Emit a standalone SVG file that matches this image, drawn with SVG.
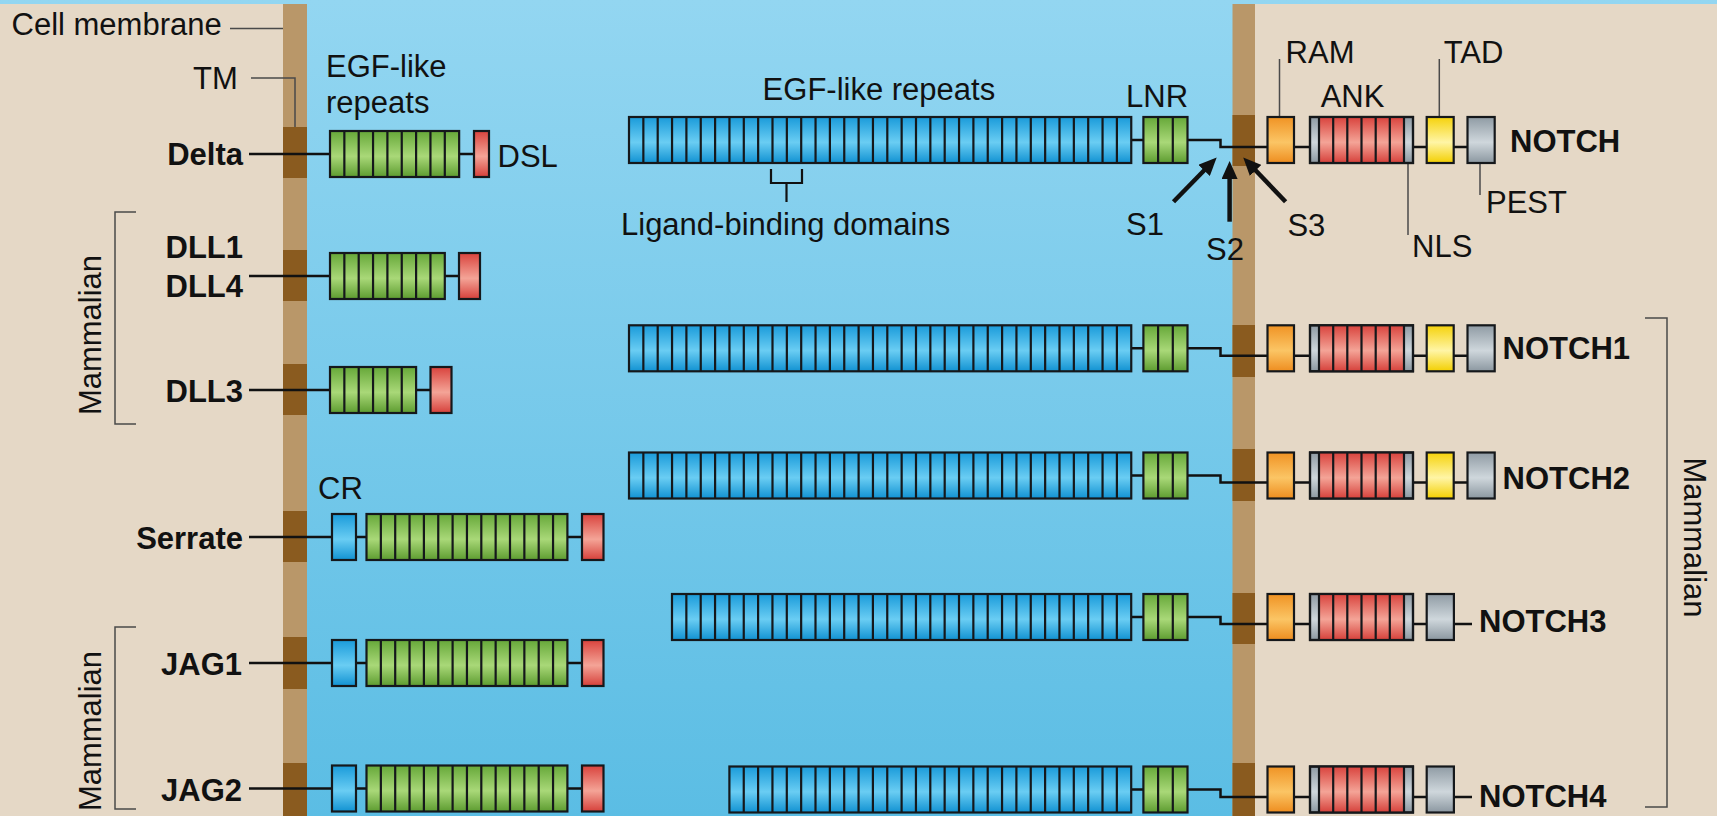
<svg xmlns="http://www.w3.org/2000/svg" xmlns:xlink="http://www.w3.org/1999/xlink" width="1717" height="816" viewBox="0 0 1717 816">
<style>
text{font-family:"Liberation Sans",Arial,sans-serif;font-size:31px;fill:#111}
.b{font-weight:bold}
.box{stroke:#15181b;stroke-width:2.2}
.div{stroke:#15181b;stroke-width:2.2;fill:none}
.con{stroke:#111;stroke-width:2.5;fill:none}
.lead{stroke:#4a4a4a;stroke-width:1.5;fill:none}
.brk{stroke:#111;stroke-width:2.2;fill:none}
.arr{stroke:#111;stroke-width:4.5;fill:none;marker-end:url(#ah)}
.tm{fill:#8a5b1f}
</style>
<defs>
<linearGradient id="bg" x1="0" y1="0" x2="0" y2="816" gradientUnits="userSpaceOnUse"><stop offset="0" stop-color="#93d6f1"/><stop offset="1" stop-color="#5bbde4"/></linearGradient>
<linearGradient id="gB" x1="0" y1="0" x2="0" y2="1"><stop offset="0" stop-color="#1a9bda"/><stop offset=".55" stop-color="#6acdf3"/><stop offset="1" stop-color="#1192d2"/></linearGradient>
<linearGradient id="gG" x1="0" y1="0" x2="0" y2="1"><stop offset="0" stop-color="#66a839"/><stop offset=".55" stop-color="#a9d878"/><stop offset="1" stop-color="#5d9c30"/></linearGradient>
<linearGradient id="gR" x1="0" y1="0" x2="0" y2="1"><stop offset="0" stop-color="#d9433d"/><stop offset=".55" stop-color="#f4a497"/><stop offset="1" stop-color="#d6403a"/></linearGradient>
<linearGradient id="gO" x1="0" y1="0" x2="0" y2="1"><stop offset="0" stop-color="#f09324"/><stop offset=".55" stop-color="#fbc565"/><stop offset="1" stop-color="#ee8d1f"/></linearGradient>
<linearGradient id="gY" x1="0" y1="0" x2="0" y2="1"><stop offset="0" stop-color="#f5d20a"/><stop offset=".55" stop-color="#fff5a6"/><stop offset="1" stop-color="#f3cf00"/></linearGradient>
<linearGradient id="gS" x1="0" y1="0" x2="0" y2="1"><stop offset="0" stop-color="#8f9ba4"/><stop offset=".55" stop-color="#cfd7dc"/><stop offset="1" stop-color="#8b97a0"/></linearGradient>
<marker id="ah" markerUnits="userSpaceOnUse" markerWidth="18" markerHeight="16" refX="2" refY="8" orient="auto"><path d="M0,0 L18,8 L0,16 z" fill="#111"/></marker>
<path id="d35" class="div" d="M14.35 0v46m14.35-46v46m14.35-46v46m14.35-46v46m14.35-46v46m14.35-46v46m14.35-46v46m14.35-46v46m14.35-46v46m14.35-46v46m14.35-46v46m14.35-46v46m14.35-46v46m14.35-46v46m14.35-46v46m14.35-46v46m14.35-46v46m14.35-46v46m14.35-46v46m14.35-46v46m14.35-46v46m14.35-46v46m14.35-46v46m14.35-46v46m14.35-46v46m14.35-46v46m14.35-46v46m14.35-46v46m14.35-46v46m14.35-46v46m14.35-46v46m14.35-46v46m14.35-46v46m14.35-46v46"/>
<path id="d32" class="div" d="M14.35 0v46m14.35-46v46m14.35-46v46m14.35-46v46m14.35-46v46m14.35-46v46m14.35-46v46m14.35-46v46m14.35-46v46m14.35-46v46m14.35-46v46m14.35-46v46m14.35-46v46m14.35-46v46m14.35-46v46m14.35-46v46m14.35-46v46m14.35-46v46m14.35-46v46m14.35-46v46m14.35-46v46m14.35-46v46m14.35-46v46m14.35-46v46m14.35-46v46m14.35-46v46m14.35-46v46m14.35-46v46m14.35-46v46m14.35-46v46m14.35-46v46"/>
<path id="d28" class="div" d="M14.35 0v46m14.35-46v46m14.35-46v46m14.35-46v46m14.35-46v46m14.35-46v46m14.35-46v46m14.35-46v46m14.35-46v46m14.35-46v46m14.35-46v46m14.35-46v46m14.35-46v46m14.35-46v46m14.35-46v46m14.35-46v46m14.35-46v46m14.35-46v46m14.35-46v46m14.35-46v46m14.35-46v46m14.35-46v46m14.35-46v46m14.35-46v46m14.35-46v46m14.35-46v46m14.35-46v46"/>
<path id="d14" class="div" d="M14.35 0v46m14.35-46v46m14.35-46v46m14.35-46v46m14.35-46v46m14.35-46v46m14.35-46v46m14.35-46v46m14.35-46v46m14.35-46v46m14.35-46v46m14.35-46v46m14.35-46v46"/>
<path id="d9" class="div" d="M14.35 0v46m14.35-46v46m14.35-46v46m14.35-46v46m14.35-46v46m14.35-46v46m14.35-46v46m14.35-46v46"/>
<path id="d8" class="div" d="M14.35 0v46m14.35-46v46m14.35-46v46m14.35-46v46m14.35-46v46m14.35-46v46m14.35-46v46"/>
<path id="d6" class="div" d="M14.35 0v46m14.35-46v46m14.35-46v46m14.35-46v46m14.35-46v46"/>
<g id="egf35"><rect class="box" width="502.25" height="46" fill="url(#gB)"/><use href="#d35"/></g>
<g id="lnr"><rect class="box" width="44.1" height="46" fill="url(#gG)"/><path class="div" d="M14.7 0v46M29.4 0v46"/></g>
<g id="ank"><rect class="box" width="103" height="46" fill="url(#gS)"/><rect x="9" width="85" height="46" fill="url(#gR)"/><path class="div" d="M9 0v46M23.2 0v46M37.3 0v46M51.5 0v46M65.7 0v46M79.8 0v46M94 0v46"/><rect class="box" width="103" height="46" fill="none"/></g>
<g id="ram"><rect class="box" width="26.5" height="46" fill="url(#gO)"/></g>
<g id="tad"><rect class="box" width="27" height="46" fill="url(#gY)"/></g>
<g id="pest"><rect class="box" width="27.2" height="46" fill="url(#gS)"/></g>
<g id="cr"><rect class="box" width="24" height="46" fill="url(#gB)"/></g>
<g id="jagg"><rect class="box" width="200.9" height="46" fill="url(#gG)"/><use href="#d14"/></g>
<g id="jagr"><rect class="box" width="21.5" height="46" fill="url(#gR)"/></g>
</defs>

<g id="background">
<rect width="1717" height="816" fill="url(#bg)"/>
<rect x="0" y="4" width="283" height="812" fill="#e5d8c6"/>
<rect x="1255" y="4" width="462" height="812" fill="#e5d8c6"/>
<rect x="283" y="4" width="24" height="812" fill="#b99769"/>
<rect x="1232.5" y="4" width="22.5" height="812" fill="#b99769"/>
<rect class="tm" x="283" y="127" width="24" height="51"/>
<rect class="tm" x="283" y="250" width="24" height="51"/>
<rect class="tm" x="283" y="364" width="24" height="51"/>
<rect class="tm" x="283" y="511" width="24" height="51"/>
<rect class="tm" x="283" y="637" width="24" height="52"/>
<rect class="tm" x="283" y="763" width="24" height="53"/>
<rect class="tm" x="1232.5" y="115" width="22.5" height="51"/>
<rect class="tm" x="1232.5" y="325" width="22.5" height="52"/>
<rect class="tm" x="1232.5" y="449" width="22.5" height="52"/>
<rect class="tm" x="1232.5" y="593" width="22.5" height="51"/>
<rect class="tm" x="1232.5" y="763" width="22.5" height="53"/>
</g>

<g id="connectors">
<path class="con" d="M249 154H489"/>
<path class="con" d="M249 276H470"/>
<path class="con" d="M249 390H440"/>
<path class="con" d="M249 537H592"/>
<path class="con" d="M249 663H592"/>
<path class="con" d="M249 788.5H592"/>
<path class="con" d="M1131 140H1220.5V147H1490"/>
<path class="con" d="M1131 348.3H1220.5V355.8H1490"/>
<path class="con" d="M1131 475.5H1220.5V482.5H1490"/>
<path class="con" d="M1131 617H1220.5V624H1472"/>
<path class="con" d="M1131 789.5H1220.5V797H1472"/>
<path class="arr" d="M1173.5 201.7L1205.5 169"/>
<path class="arr" d="M1229.6 221.7V177"/>
<path class="arr" d="M1285.6 201.7L1254.3 169"/>
</g>

<g id="annotations">
<path class="lead" d="M230 28.5H283"/>
<path class="lead" d="M251 78H295V127"/>
<path class="brk" d="M771 169V183H802V169M786.5 183V202"/>
<path class="lead" d="M1279.5 59V117"/>
<path class="lead" d="M1439.3 59V117"/>
<path class="lead" d="M1408 163V235"/>
<path class="lead" d="M1480 163V195"/>
<path class="lead" d="M136 212H115V424H136"/>
<path class="lead" d="M136 627H115V809H136"/>
<path class="lead" d="M1645 318H1667V807H1645"/>
<text x="11.5" y="35">Cell membrane</text>
<text x="193" y="89">TM</text>
<text x="326" y="77">EGF-like</text>
<text x="326" y="113">repeats</text>
<text x="762.6" y="100">EGF-like repeats</text>
<text x="1126" y="107">LNR</text>
<text x="621" y="235">Ligand-binding domains</text>
<text x="1126" y="235">S1</text>
<text x="1206" y="260">S2</text>
<text x="1287.4" y="236">S3</text>
<text x="1285.6" y="63">RAM</text>
<text x="1320.7" y="107">ANK</text>
<text x="1443.7" y="63">TAD</text>
<text x="1412" y="257">NLS</text>
<text x="1486" y="213">PEST</text>
<text transform="translate(101 335) rotate(-90)" text-anchor="middle">Mammalian</text>
<text transform="translate(101 731) rotate(-90)" text-anchor="middle">Mammalian</text>
<text transform="translate(1684 537.5) rotate(90)" text-anchor="middle">Mammalian</text>
</g>

<g id="delta">
<text class="b" x="243" y="165" text-anchor="end">Delta</text>
<g transform="translate(330 131)"><rect class="box" width="129.15" height="46" fill="url(#gG)"/><use href="#d9"/></g>
<rect class="box" x="474" y="131" width="15" height="46" fill="url(#gR)"/>
<text x="497.5" y="167">DSL</text>
</g>

<g id="dll1-dll4">
<text class="b" x="243" y="258" text-anchor="end">DLL1</text>
<text class="b" x="243" y="297" text-anchor="end">DLL4</text>
<g transform="translate(330 253)"><rect class="box" width="114.8" height="46" fill="url(#gG)"/><use href="#d8"/></g>
<rect class="box" x="459" y="253" width="21" height="46" fill="url(#gR)"/>
</g>

<g id="dll3">
<text class="b" x="243" y="402" text-anchor="end">DLL3</text>
<g transform="translate(330 367)"><rect class="box" width="86.1" height="46" fill="url(#gG)"/><use href="#d6"/></g>
<rect class="box" x="430.5" y="367" width="21" height="46" fill="url(#gR)"/>
</g>

<g id="serrate">
<text class="b" x="243" y="549" text-anchor="end">Serrate</text>
<text x="318" y="499">CR</text>
<use href="#cr" x="332" y="514"/>
<use href="#jagg" x="366.5" y="514"/>
<use href="#jagr" x="582" y="514"/>
</g>

<g id="jag1">
<text class="b" x="242" y="675" text-anchor="end">JAG1</text>
<use href="#cr" x="332" y="640"/>
<use href="#jagg" x="366.5" y="640"/>
<use href="#jagr" x="582" y="640"/>
</g>

<g id="jag2">
<text class="b" x="242" y="801" text-anchor="end">JAG2</text>
<use href="#cr" x="332" y="765.5"/>
<use href="#jagg" x="366.5" y="765.5"/>
<use href="#jagr" x="582" y="765.5"/>
</g>

<g id="notch">
<use href="#egf35" x="629" y="117"/>
<use href="#lnr" x="1143.4" y="117"/>
<use href="#ram" x="1267.5" y="117"/>
<use href="#ank" x="1310" y="117"/>
<use href="#tad" x="1426.7" y="117"/>
<use href="#pest" x="1467.5" y="117"/>
<text class="b" x="1510" y="152">NOTCH</text>
</g>

<g id="notch1">
<use href="#egf35" x="629" y="325.3"/>
<use href="#lnr" x="1143.4" y="325.3"/>
<use href="#ram" x="1267.5" y="325.3"/>
<use href="#ank" x="1310" y="325.3"/>
<use href="#tad" x="1426.7" y="325.3"/>
<use href="#pest" x="1467.5" y="325.3"/>
<text class="b" x="1502.6" y="358.5">NOTCH1</text>
</g>

<g id="notch2">
<use href="#egf35" x="629" y="452.5"/>
<use href="#lnr" x="1143.4" y="452.5"/>
<use href="#ram" x="1267.5" y="452.5"/>
<use href="#ank" x="1310" y="452.5"/>
<use href="#tad" x="1426.7" y="452.5"/>
<use href="#pest" x="1467.5" y="452.5"/>
<text class="b" x="1502.6" y="488.5">NOTCH2</text>
</g>

<g id="notch3">
<g transform="translate(672 594)"><rect class="box" width="459.2" height="46" fill="url(#gB)"/><use href="#d32"/></g>
<use href="#lnr" x="1143.4" y="594"/>
<use href="#ram" x="1267.5" y="594"/>
<use href="#ank" x="1310" y="594"/>
<use href="#pest" x="1426.7" y="594"/>
<text class="b" x="1479" y="632">NOTCH3</text>
</g>

<g id="notch4">
<g transform="translate(729.4 766.5)"><rect class="box" width="401.8" height="46" fill="url(#gB)"/><use href="#d28"/></g>
<use href="#lnr" x="1143.4" y="766.5"/>
<use href="#ram" x="1267.5" y="766.5"/>
<use href="#ank" x="1310" y="766.5"/>
<use href="#pest" x="1426.7" y="766.5"/>
<text class="b" x="1479" y="807">NOTCH4</text>
</g>
</svg>
